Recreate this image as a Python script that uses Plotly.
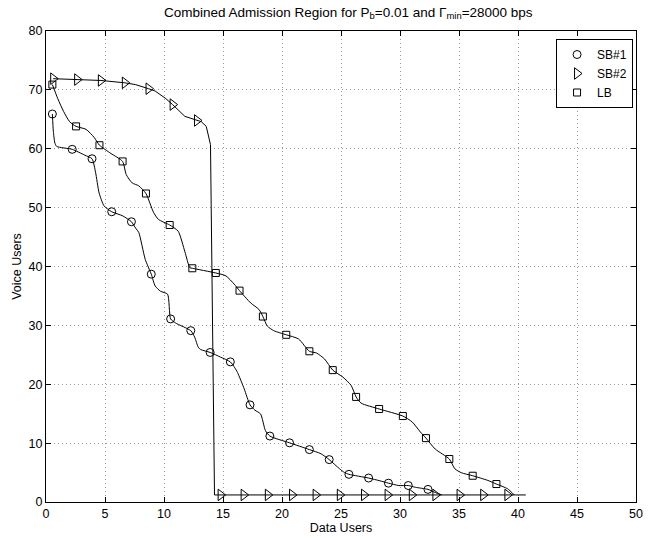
import plotly.graph_objects as go

# ---------------- data ----------------
# SB#1 curve and circle markers
sb1_line_x = [0.54, 0.62, 0.75, 0.9, 2.22, 3.3, 3.9, 4.2, 4.5, 4.92, 5.57, 6.5, 7.24, 7.6, 7.86,
              8.41, 8.92, 9.25, 9.7, 10.3, 10.56, 10.98, 12.27, 12.6, 12.9, 13.1, 13.91, 14.8,
              15.62, 16.0, 16.23, 16.8, 17.29, 17.7, 18.18, 18.6, 18.97, 20.64, 22.32, 23.3,
              24.0, 24.88, 25.3, 25.67, 27.34, 28.3, 29.02, 29.9, 30.7, 31.3, 32.37, 33.0, 33.54]
sb1_line_y = [65.9, 63.0, 61.0, 60.4, 59.9, 58.9, 58.3, 56.0, 52.5, 50.3, 49.3, 48.6, 47.6, 46.5, 45.8,
              41.2, 38.7, 36.7, 35.8, 35.3, 31.1, 30.4, 29.1, 28.0, 26.3, 25.9, 25.4, 24.6,
              23.8, 22.8, 22.0, 19.2, 16.5, 15.6, 14.97, 12.1, 11.2, 10.05, 8.9, 8.2,
              7.2, 5.64, 5.0, 4.7, 4.07, 3.6, 3.2, 2.8, 2.8, 2.5, 2.14, 1.6, 1.2]
sb1_mark_x = [0.54, 2.22, 3.9, 5.57, 7.24, 8.92, 10.56, 12.27, 13.91, 15.62, 17.29, 18.97, 20.64,
              22.32, 24.0, 25.67, 27.34, 29.02, 30.7, 32.37]
sb1_mark_y = [65.9, 59.9, 58.3, 49.3, 47.6, 38.7, 31.1, 29.1, 25.4, 23.8, 16.5, 11.2, 10.05,
              8.9, 7.2, 4.7, 4.07, 3.2, 2.8, 2.14]

# SB#2 curve and triangle markers
sb2_line_x = [0.61, 2.64, 4.65, 6.68, 7.58, 8.69, 9.25, 10.1, 10.73, 11.77, 12.8, 13.16, 13.58,
              13.94, 14.28, 40.66]
sb2_line_y = [71.9, 71.75, 71.6, 71.2, 70.9, 70.2, 69.8, 68.6, 67.5, 65.5, 64.8, 64.6, 63.8,
              60.7, 1.2, 1.2]
sb2_mark_x = [0.61, 2.64, 4.65, 6.68, 8.69, 10.73, 12.8, 14.8, 16.75, 18.8, 20.85, 22.85, 24.9,
              26.95, 28.95, 31.0, 33.0, 35.05, 37.05, 39.1]
sb2_mark_y = [71.9, 71.75, 71.6, 71.2, 70.2, 67.5, 64.8, 1.2, 1.2, 1.2, 1.2, 1.2, 1.2,
              1.2, 1.2, 1.2, 1.2, 1.2, 1.2, 1.2]

# LB curve and square markers
lb_line_x = [0.54, 1.0, 1.5, 2.0, 2.55, 3.39, 4.09, 4.53, 5.5, 6.49, 6.8, 7.3, 7.86, 8.47, 9.11,
             9.53, 10.48, 11.2, 11.77, 12.19, 12.4, 14.39, 15.25, 15.95, 16.4, 17.35, 18.05,
             18.38, 18.75, 19.3, 20.36, 21.4, 22.32, 22.93, 23.6, 24.3, 25.17, 25.86, 26.28,
             26.7, 28.23, 30.24, 31.03, 31.72, 32.2, 32.98, 34.18, 34.65, 35.2, 36.16, 37.45,
             38.17, 39.12, 39.68]
lb_line_y = [70.9, 68.5, 66.3, 64.6, 63.8, 63.3, 61.9, 60.6, 59.2, 57.85, 55.6, 54.2, 53.7, 52.4, 49.2,
             48.0, 47.05, 46.0, 42.5, 39.8, 39.7, 38.9, 38.4, 37.0, 35.9, 33.8, 32.7,
             31.5, 29.9, 29.1, 28.4, 27.7, 25.6, 25.3, 24.3, 22.4, 21.2, 19.8, 17.85,
             16.8, 15.8, 14.6, 13.6, 11.9, 10.85, 9.0, 7.3, 5.64, 4.97, 4.46, 3.66,
             3.05, 2.25, 1.2]
lb_mark_x = [0.54, 2.55, 4.53, 6.49, 8.47, 10.48, 12.4, 14.39, 16.4, 18.38, 20.36, 22.32, 24.3,
             26.28, 28.23, 30.24, 32.2, 34.18, 36.16, 38.17]
lb_mark_y = [70.9, 63.8, 60.6, 57.85, 52.4, 47.05, 39.7, 38.9, 35.9, 31.5, 28.4, 25.6, 22.4,
             17.85, 15.8, 14.6, 10.85, 7.3, 4.46, 3.05]

x_ticks = [0, 5, 10, 15, 20, 25, 30, 35, 40, 45, 50]
y_ticks = [0, 10, 20, 30, 40, 50, 60, 70, 80]

FONT = "Liberation Sans, Arial, Helvetica, sans-serif"
FS = 12.5

fig = go.Figure()

series = [
    ("SB#1", sb1_line_x, sb1_line_y, sb1_mark_x, sb1_mark_y, "circle-open", 8, "spline"),
    ("SB#2", sb2_line_x, sb2_line_y, sb2_mark_x, sb2_mark_y, "triangle-right-open", 10, "linear"),
    ("LB", lb_line_x, lb_line_y, lb_mark_x, lb_mark_y, "square-open", 7, "spline"),
]

for name, lx, ly, mx, my, sym, sz, shape in series:
    fig.add_trace(go.Scatter(
        x=lx, y=ly, mode="lines", showlegend=False, hoverinfo="skip",
        line=dict(color="black", width=1, shape=shape, smoothing=0.6 if shape == "spline" else None),
    ))
for name, lx, ly, mx, my, sym, sz, shape in series:
    fig.add_trace(go.Scatter(
        x=mx, y=my, mode="markers", name=name,
        marker=dict(symbol=sym, size=sz, color="black", line=dict(color="black", width=1)),
    ))

axis_common = dict(
    showline=True, linecolor="black", linewidth=1, mirror="ticks",
    ticks="inside", ticklen=5, tickcolor="black",
    showgrid=True, gridcolor="#9a9a9a", gridwidth=1, griddash="1px,3px",
    zeroline=False, tickfont=dict(family=FONT, size=FS, color="black"),
)

fig.update_xaxes(range=[0, 50], tickvals=x_ticks, ticktext=[str(v) for v in x_ticks],
                 title=dict(text="Data Users", font=dict(family=FONT, size=FS, color="black"),
                            standoff=0),
                 **axis_common)
fig.update_yaxes(range=[0, 80], tickvals=y_ticks, ticktext=[str(v) for v in y_ticks],
                 title=dict(text="Voice Users", font=dict(family=FONT, size=FS, color="black"),
                            standoff=4),
                 **axis_common)

fig.update_layout(
    width=651, height=538,
    margin=dict(l=46, r=8, t=31, b=35),
    paper_bgcolor="white", plot_bgcolor="white",
    font=dict(family=FONT, size=FS, color="black"),
    title=dict(text="Combined Admission Region for P<sub>b</sub>=0.01 and \u0393<sub>min</sub>=28000 bps",
               x=0.535, xanchor="center", y=0.978, yanchor="middle",
               font=dict(family=FONT, size=13.5, color="black")),
    legend=dict(x=0.995, xanchor="right", y=0.983, yanchor="top",
                bordercolor="black", borderwidth=1, bgcolor="white",
                font=dict(family=FONT, size=12, color="black"),
                tracegroupgap=0, itemwidth=30),
)

fig.write_html("out.html")
